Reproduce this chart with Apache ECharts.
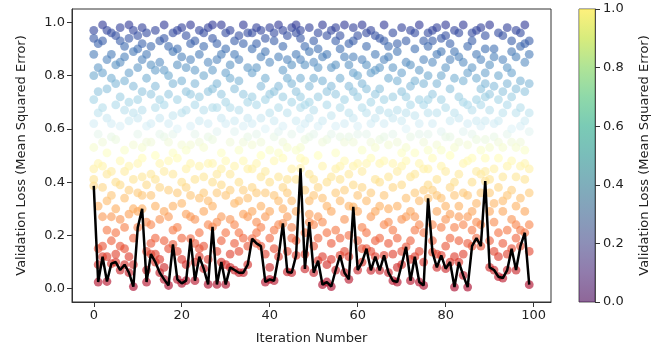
<!DOCTYPE html>
<html><head><meta charset="utf-8">
<script src="https://cdn.jsdelivr.net/npm/echarts@6/dist/echarts.min.js"></script>
<style>html,body{margin:0;padding:0;background:#fff}#c{width:662px;height:352px}</style>
</head><body><div id="c"></div>
<script>
// Lowest validation loss of each iteration (the black line)
const minLoss = [0.386,0.025,0.12,0.027,0.094,0.10,0.07,0.09,0.06,0.008,
0.23,0.30,0.025,0.13,0.10,0.06,0.035,0.012,0.166,0.035,
0.02,0.03,0.188,0.03,0.12,0.075,0.016,0.232,0.016,0.10,
0.016,0.08,0.07,0.06,0.06,0.09,0.188,0.17,0.16,0.025,
0.035,0.03,0.12,0.245,0.063,0.06,0.125,0.452,0.074,0.25,
0.06,0.105,0.015,0.025,0.008,0.07,0.125,0.06,0.035,0.307,
0.07,0.10,0.15,0.069,0.12,0.069,0.125,0.06,0.03,0.025,
0.09,0.157,0.03,0.12,0.025,0.012,0.339,0.137,0.08,0.125,
0.075,0.10,0.006,0.10,0.05,0.006,0.16,0.19,0.16,0.404,
0.08,0.07,0.045,0.04,0.07,0.15,0.07,0.16,0.21,0.015];
// Remaining validation losses of each iteration
const otherLoss = [
[.97,.45,.62,.88,.71,.53,.94,.80,.41],[.92,.15,.47,.66,.83,.31,.58,.09,.74],[.99,.27,.55,.38,.81,.68,.16,.93,.46],
[.86,.12,.64,.43,.97,.22,.75,.51,.33],[.96,.79,.35,.18,.57,.88,.62,.27,.44],[.84,.21,.69,.95,.40,.13,.56,.77,.30],
[.93,.48,.16,.72,.61,.85,.26,.39,.98],[.78,.34,.91,.52,.15,.67,.44,.23,.87],[.99,.63,.28,.81,.12,.46,.70,.37,.94],
[.89,.19,.54,.76,.09,.41,.66,.30,.97],[.95,.36,.58,.83,.47,.71,.29,.90,.64],[.98,.42,.67,.35,.86,.53,.74,.92,.49],
[.88,.14,.61,.39,.79,.25,.55,.96,.07],[.91,.55,.24,.73,.43,.17,.84,.62,.35],[.97,.31,.68,.19,.50,.82,.41,.76,.13],
[.85,.26,.47,.93,.64,.11,.38,.71,.58],[.94,.44,.18,.69,.82,.29,.57,.08,.99],[.80,.37,.62,.15,.91,.48,.27,.73,.55],
[.96,.58,.31,.77,.43,.89,.22,.65,.51],[.90,.23,.49,.71,.14,.84,.36,.60,.97],[.87,.40,.66,.19,.54,.98,.32,.78,.11],
[.95,.52,.28,.83,.45,.09,.67,.38,.74],[.99,.61,.35,.86,.47,.73,.27,.92,.54],[.82,.17,.58,.41,.93,.26,.69,.10,.77],
[.97,.46,.72,.21,.63,.88,.34,.55,.15],[.91,.29,.53,.80,.16,.67,.42,.96,.36],[.98,.62,.11,.47,.85,.33,.74,.24,.57],
[.94,.40,.68,.31,.82,.56,.99,.47,.75],[.86,.25,.59,.14,.77,.43,.92,.36,.68],[.99,.51,.18,.73,.39,.64,.27,.88,.45],
[.90,.35,.62,.09,.81,.48,.21,.70,.96],[.97,.43,.26,.68,.55,.13,.84,.37,.79],[.88,.59,.32,.17,.75,.46,.93,.24,.63],
[.95,.21,.67,.40,.86,.14,.52,.78,.33],[.99,.48,.73,.28,.61,.92,.19,.55,.37],[.83,.34,.57,.16,.70,.45,.96,.27,.64],
[.96,.62,.38,.81,.29,.54,.90,.45,.72],[.92,.47,.25,.69,.83,.36,.58,.98,.21],[.97,.55,.31,.76,.42,.87,.23,.64,.50],
[.89,.13,.60,.44,.79,.27,.94,.36,.71],[.98,.40,.66,.19,.85,.52,.29,.73,.08],[.93,.57,.22,.74,.35,.96,.48,.15,.63],
[.99,.33,.68,.51,.87,.24,.76,.42,.59],[.97,.61,.38,.82,.49,.72,.30,.91,.55],[.86,.27,.53,.14,.79,.41,.95,.66,.36],
[.98,.45,.19,.70,.58,.33,.84,.23,.77],[.99,.52,.29,.74,.41,.88,.63,.18,.96],[.97,.68,.53,.86,.60,.79,.94,.49,.72],
[.91,.37,.62,.21,.84,.48,.13,.69,.56],[.98,.43,.70,.33,.89,.57,.76,.28,.64],[.85,.24,.58,.41,.93,.16,.67,.35,.79],
[.96,.50,.27,.72,.38,.83,.61,.19,.90],[.99,.34,.63,.12,.78,.46,.25,.87,.55],[.88,.56,.21,.69,.40,.95,.31,.74,.09],
[.97,.42,.17,.65,.83,.29,.58,.11,.76],[.93,.61,.36,.84,.22,.51,.73,.45,.98],[.90,.33,.57,.79,.46,.19,.68,.95,.41],
[.99,.48,.26,.71,.14,.62,.87,.37,.55],[.84,.20,.66,.43,.92,.31,.57,.76,.12],[.98,.55,.74,.39,.87,.64,.46,.93,.81],
[.95,.29,.61,.18,.80,.47,.35,.72,.58],[.99,.44,.68,.23,.86,.52,.15,.77,.38],[.91,.58,.33,.75,.47,.21,.84,.66,.96],
[.97,.36,.62,.14,.81,.49,.27,.70,.55],[.88,.53,.29,.73,.41,.95,.18,.64,.82],[.94,.40,.19,.67,.56,.83,.31,.75,.47],
[.99,.62,.35,.86,.48,.24,.71,.57,.93],[.87,.30,.54,.17,.79,.42,.66,.25,.91],[.96,.47,.72,.22,.58,.13,.83,.38,.64],
[.92,.55,.31,.78,.44,.19,.67,.89,.08],[.98,.39,.63,.26,.81,.51,.14,.74,.46],[.85,.60,.34,.72,.48,.93,.27,.66,.53],
[.97,.42,.18,.69,.57,.84,.29,.11,.76],[.90,.51,.27,.78,.36,.65,.96,.43,.22],[.99,.33,.58,.14,.82,.47,.71,.24,.62],
[.86,.45,.69,.21,.93,.37,.55,.10,.77],[.96,.58,.80,.45,.71,.91,.52,.66,.39],[.93,.37,.62,.24,.85,.49,.73,.18,.97],
[.98,.54,.29,.77,.41,.13,.66,.88,.35],[.89,.46,.71,.23,.59,.94,.34,.80,.52],[.95,.31,.57,.16,.83,.44,.68,.26,.99],
[.92,.63,.38,.19,.75,.50,.86,.28,.57],[.97,.40,.66,.12,.79,.53,.23,.89,.35],[.87,.55,.31,.72,.18,.64,.43,.96,.27],
[.99,.47,.24,.70,.36,.85,.59,.13,.78],[.91,.35,.62,.17,.81,.48,.27,.69,.54],[.96,.58,.40,.83,.29,.67,.49,.93,.22],
[.88,.44,.71,.32,.79,.56,.25,.97,.63],[.98,.52,.36,.75,.61,.24,.86,.43,.69],[.95,.63,.81,.49,.72,.90,.56,.44,.77],
[.99,.41,.67,.18,.84,.53,.29,.73,.36],[.90,.57,.32,.76,.14,.62,.45,.87,.25],[.96,.38,.63,.21,.80,.49,.12,.71,.55],
[.86,.53,.29,.74,.42,.95,.17,.66,.33],[.98,.46,.22,.69,.58,.83,.35,.13,.77],[.93,.60,.37,.81,.48,.26,.72,.55,.89],
[.97,.42,.66,.19,.75,.31,.87,.53,.24],[.91,.55,.34,.78,.46,.68,.22,.96,.61],[.99,.63,.41,.85,.52,.74,.29,.92,.47],
[.88,.36,.59,.14,.77,.45,.66,.24,.93]];
const xTicks = [0,20,40,60,80,100];
const yTicks = [0,0.2,0.4,0.6,0.8,1.0];
const cbTicks = [0,0.2,0.4,0.6,0.8,1.0];

const rdylbu = ['#a50026','#d73027','#f46d43','#fdae61','#fee090','#ffffbf','#e0f3f8','#abd9e9','#74add1','#4575b4','#313695'];
const viridis = ['#440154','#482475','#414487','#355f8d','#2a788e','#21918c','#22a884','#44bf70','#7ad151','#bddf26','#fde725'];

const pts = [];
minLoss.forEach((m, i) => {
  pts.push([i, m]);
  otherLoss[i].forEach(v => pts.push([i, v]));
});
const linePts = minLoss.map((m, i) => [i, m]);

const axisCol = '#333';
const font = 'DejaVu Sans';
const chart = echarts.init(document.getElementById('c'));
chart.setOption({
  animation: false,
  textStyle: {fontFamily: font},
  grid: [
    {left: 72, top: 9, width: 479, height: 293, show: true, borderColor: axisCol, borderWidth: 1},
    {left: 579, top: 9, width: 16, height: 293, show: true, borderColor: axisCol, borderWidth: 0.8}
  ],
  visualMap: {type: 'continuous', show: false, min: 0, max: 1, dimension: 1, seriesIndex: 0,
    inRange: {color: rdylbu}},
  xAxis: [
    {type: 'value', gridIndex: 0, min: -4.95, max: 103.95,
     axisLine: {show: true, onZero: false, lineStyle: {color: axisCol}},
     axisTick: {show: true, customValues: xTicks, length: 5, lineStyle: {color: axisCol}},
     axisLabel: {customValues: xTicks, fontSize: 13, color: '#222', margin: 7, fontFamily: font},
     splitLine: {show: false},
     name: 'Iteration Number', nameLocation: 'middle', nameGap: 30,
     nameTextStyle: {fontSize: 13, color: '#222', fontFamily: font}},
    {type: 'category', gridIndex: 1, data: ['cb'], show: false}
  ],
  yAxis: [
    {type: 'value', gridIndex: 0, min: -0.05, max: 1.05,
     axisLine: {show: true, onZero: false, lineStyle: {color: axisCol}},
     axisTick: {show: true, customValues: yTicks, length: 5, lineStyle: {color: axisCol}},
     axisLabel: {customValues: yTicks, fontSize: 13, color: '#222', margin: 7, fontFamily: font,
       formatter: v => v.toFixed(1)},
     splitLine: {show: false},
     name: 'Validation Loss (Mean Squared Error)', nameLocation: 'middle', nameGap: 44, nameRotate: 90,
     nameTextStyle: {fontSize: 13, color: '#222', fontFamily: font}},
    {type: 'value', gridIndex: 1, min: 0, max: 1, interval: 0.2, position: 'right',
     axisLine: {show: true, lineStyle: {color: axisCol, width: 0.8}},
     axisTick: {show: true, length: 5, lineStyle: {color: axisCol}},
     axisLabel: {fontSize: 13, color: '#222', margin: 8, fontFamily: font, formatter: v => v.toFixed(1)},
     splitLine: {show: false},
     name: 'Validation Loss (Mean Squared Error)', nameLocation: 'middle', nameGap: 43, nameRotate: 90,
     nameTextStyle: {fontSize: 13, color: '#222', fontFamily: font}}
  ],
  series: [
    {type: 'scatter', xAxisIndex: 0, yAxisIndex: 0, data: pts, symbolSize: 8.8,
     itemStyle: {opacity: 0.62}, z: 2, silent: true},
    {type: 'line', xAxisIndex: 0, yAxisIndex: 0, data: linePts, showSymbol: false,
     lineStyle: {color: '#000', width: 2.5}, z: 3, silent: true},
    {type: 'bar', xAxisIndex: 1, yAxisIndex: 1, data: [1], barWidth: '100%', silent: true,
     itemStyle: {opacity: 0.6, color: {type: 'linear', x: 0, y: 1, x2: 0, y2: 0,
       colorStops: viridis.map((c, i) => ({offset: i / (viridis.length - 1), color: c}))}}}
  ]
});
</script></body></html>
